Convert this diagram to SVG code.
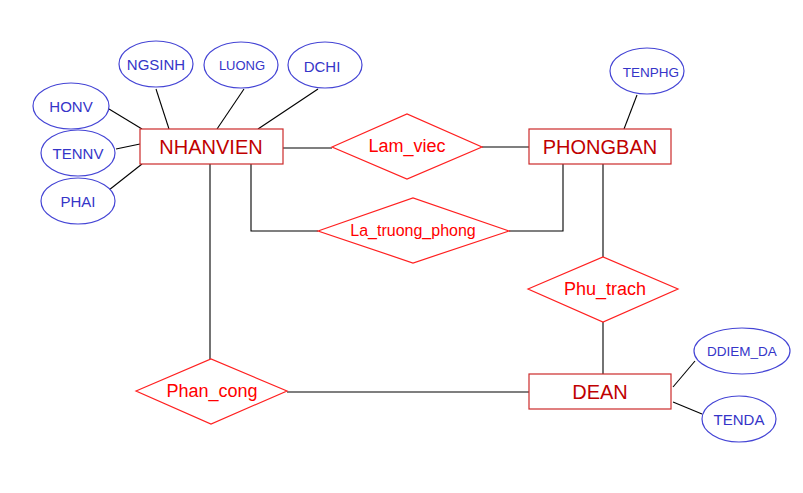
<svg xmlns="http://www.w3.org/2000/svg" width="803" height="493" viewBox="0 0 803 493">
<style>
text{font-family:"Liberation Sans",Arial,sans-serif;text-anchor:middle}
.ent rect{fill:#fff;stroke:#cc2a2a;stroke-width:1.2}
.ent text{fill:#c00000;font-size:20px}
.rel polygon{fill:#fff;stroke:#ff2020;stroke-width:1.2}
.rel text{fill:#ff0000;font-size:18px}
.att ellipse{fill:#fff;stroke:#4545d5;stroke-width:1.2}
.att text{fill:#3535c8;font-size:15px}
.c{fill:none;stroke:#000;stroke-width:1.1}
</style>
<rect width="803" height="493" fill="#fff"/>
<g id="connectors" class="c">
<line x1="109" y1="109" x2="142" y2="129"/>
<line x1="116" y1="149" x2="140" y2="144"/>
<line x1="109" y1="190" x2="142" y2="164"/>
<line x1="156" y1="89" x2="169" y2="129"/>
<line x1="244" y1="89" x2="217" y2="129"/>
<line x1="318" y1="89" x2="258" y2="129"/>
<line x1="283" y1="148" x2="332" y2="148"/>
<line x1="482" y1="147" x2="529" y2="147"/>
<line x1="637" y1="95" x2="624" y2="129"/>
<polyline points="251,164 251,231 318,231"/>
<polyline points="509,231 563,231 563,164"/>
<line x1="210" y1="164" x2="210" y2="359"/>
<line x1="603" y1="164" x2="603" y2="257"/>
<line x1="603" y1="322" x2="603" y2="374"/>
<line x1="287" y1="392" x2="529" y2="392"/>
<line x1="695" y1="361" x2="673" y2="387"/>
<line x1="702" y1="414" x2="673" y2="402"/>
</g>
<g id="NHANVIEN" class="ent"><rect x="140" y="129" width="143" height="35"/><text x="211" y="154">NHANVIEN</text></g>
<g id="PHONGBAN" class="ent"><rect x="529" y="129" width="142" height="35"/><text x="600" y="154">PHONGBAN</text></g>
<g id="DEAN" class="ent"><rect x="529" y="374" width="142" height="35"/><text x="600" y="399">DEAN</text></g>
<g id="Lam_viec" class="rel"><polygon points="332,147 407,114 482,147 407,179"/><text x="407" y="152">Lam_viec</text></g>
<g id="La_truong_phong" class="rel"><polygon points="318,231 413,198 509,231 413,263"/><text x="413" y="236" style="font-size:16px">La_truong_phong</text></g>
<g id="Phu_trach" class="rel"><polygon points="528,289 603,257 678,289 603,322"/><text x="605" y="295">Phu_trach</text></g>
<g id="Phan_cong" class="rel"><polygon points="136,391 211,359 287,391 211,424"/><text x="212" y="397">Phan_cong</text></g>
<g id="HONV" class="att"><ellipse cx="71" cy="106" rx="38" ry="23"/><text x="71" y="112">HONV</text></g>
<g id="TENNV" class="att"><ellipse cx="78" cy="153" rx="37" ry="23"/><text x="78" y="159">TENNV</text></g>
<g id="PHAI" class="att"><ellipse cx="78" cy="201" rx="37" ry="23"/><text x="78" y="207">PHAI</text></g>
<g id="NGSINH" class="att"><ellipse cx="156" cy="64" rx="37" ry="23"/><text x="156" y="70">NGSINH</text></g>
<g id="LUONG" class="att"><ellipse cx="241" cy="65" rx="37" ry="23"/><text x="242" y="70" style="font-size:13px">LUONG</text></g>
<g id="DCHI" class="att"><ellipse cx="325" cy="65" rx="37" ry="23"/><text x="322" y="72">DCHI</text></g>
<g id="TENPHG" class="att"><ellipse cx="647" cy="71" rx="37" ry="23"/><text x="651" y="77" style="font-size:13.5px">TENPHG</text></g>
<g id="DDIEM_DA" class="att"><ellipse cx="742" cy="351" rx="48" ry="23"/><text x="742" y="356" style="font-size:13.5px">DDIEM_DA</text></g>
<g id="TENDA" class="att"><ellipse cx="739" cy="419" rx="37" ry="23"/><text x="739" y="425">TENDA</text></g>
</svg>
